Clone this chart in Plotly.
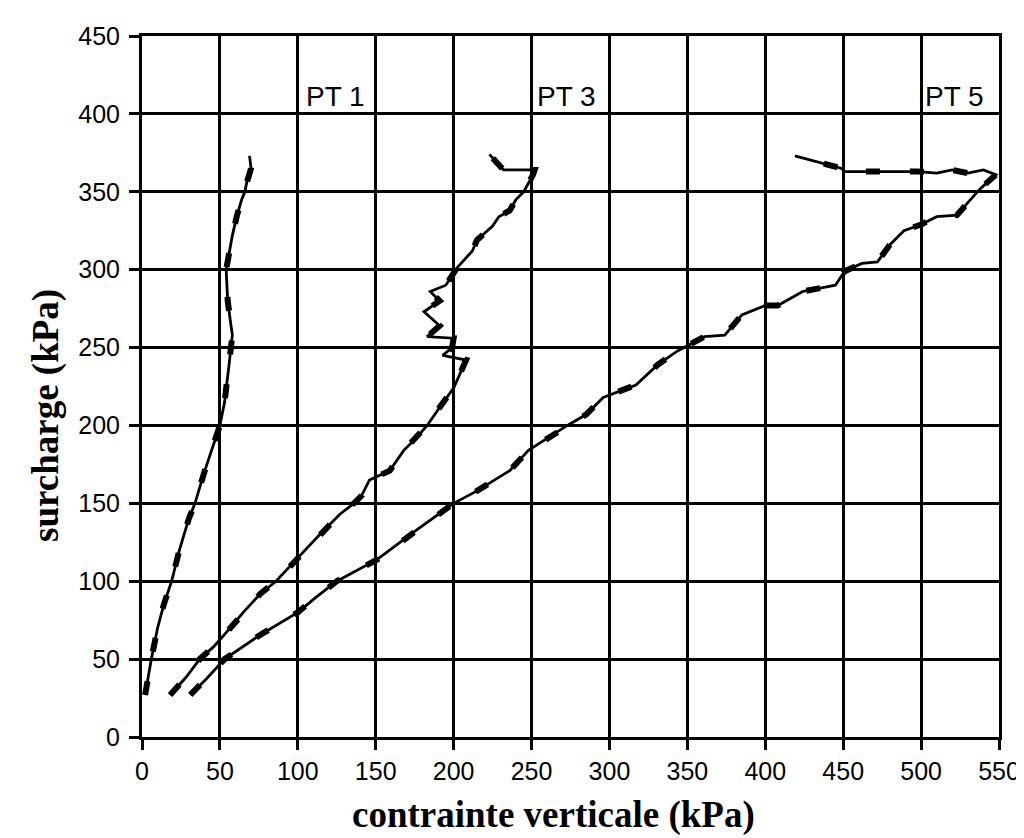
import plotly.graph_objects as go

# PT 1 : contrainte verticale (kPa) / surcharge (kPa)
x_pt1 = [2, 4, 6, 10, 14, 19, 24, 30, 34, 40, 45, 50, 53, 55, 56, 57, 58, 57, 55, 54, 56, 58, 61, 64, 66, 68, 70, 69]
y_pt1 = [27, 40, 50, 70, 85, 100, 120, 140, 150, 170, 185, 200, 215, 230, 240, 250, 258, 265, 280, 300, 312, 322, 335, 345, 350, 360, 365, 373]

# PT 3
x_pt3 = [18, 28, 37, 46, 54, 65, 76, 86, 100, 115, 127, 136, 141, 146, 159, 168, 176, 183, 192, 200,
         208, 193, 199, 200, 183, 191, 181, 191, 185, 195, 202, 212, 215, 225, 229, 236, 240, 245, 251,
         252, 240, 232, 223]
y_pt3 = [27, 38, 50, 58, 67, 80, 92, 100, 115, 131, 143, 150, 155, 165, 171, 184, 192, 200, 213, 224,
         242, 245, 250, 256, 257, 264, 273, 280, 286, 290, 301, 312, 319, 328, 334, 338, 345, 350, 361,
         364, 364, 364, 374]

# PT 5
x_pt5 = [31, 42, 53, 75, 100, 112, 125, 151, 175, 200, 215, 236, 248, 273, 285, 296, 317, 331, 344, 361,
         374, 385, 400, 408, 424, 445, 451, 462, 472, 480, 489, 500, 510, 523, 530, 538, 548, 540, 530,
         520, 510, 498, 451, 449, 419]
y_pt5 = [27, 38, 50, 65, 80, 90, 100, 114, 132, 150, 158, 171, 184, 200, 207, 218, 226, 239, 248, 257,
         258, 271, 277, 277, 286, 290, 299, 304, 305, 316, 325, 329, 334, 335, 343, 352, 361, 364, 362,
         364, 362, 363, 363, 365, 373]

labels = ["PT 1", "PT 3", "PT 5"]
label_x = [104, 252, 501]
label_y = [411, 411, 411]

fig = go.Figure()

for xs, ys in [(x_pt1, y_pt1), (x_pt3, y_pt3), (x_pt5, y_pt5)]:
    # thin measured line
    fig.add_trace(go.Scatter(x=xs, y=ys, mode='lines', line=dict(color='black', width=2.8), showlegend=False))
    # thick dashed overlay
    fig.add_trace(go.Scatter(x=xs, y=ys, mode='lines', line=dict(color='black', width=6, dash='14px,30px'), showlegend=False))

for txt, lx, ly in zip(labels, label_x, label_y):
    fig.add_annotation(x=lx, y=ly, text=txt, showarrow=False, xanchor='left', yanchor='middle',
                       font=dict(family='Liberation Sans, Arial', size=28, color='black'))

# axis titles as annotations, placed like the original
fig.add_annotation(xref='paper', yref='paper', x=0.48, y=-0.111, text='<b>contrainte verticale (kPa)</b>',
                   showarrow=False, xanchor='center', yanchor='middle',
                   font=dict(family='Liberation Serif, Times New Roman', size=37, color='black'))
fig.add_annotation(xref='paper', yref='paper', x=-0.112, y=0.458, text='<b>surcharge (kPa)</b>',
                   showarrow=False, xanchor='center', yanchor='middle', textangle=-90,
                   font=dict(family='Liberation Serif, Times New Roman', size=37, color='black'))

axis_style = dict(showline=True, linecolor='black', linewidth=3, mirror=True,
                  showgrid=True, gridcolor='black', gridwidth=2.5, zeroline=False,
                  ticks='outside', ticklen=10, tickwidth=2.5, tickcolor='black',
                  tickfont=dict(family='Liberation Sans, Arial', size=25, color='black'))

fig.update_xaxes(range=[0, 550], tick0=0, dtick=50, **axis_style)
fig.update_yaxes(range=[0, 450], tick0=0, dtick=50, ticklabelstandoff=4, **axis_style)

fig.update_layout(width=1024, height=838, margin=dict(l=134, r=29, t=28, b=109),
                  plot_bgcolor='white', paper_bgcolor='white', showlegend=False)

fig.write_html("out.html")
